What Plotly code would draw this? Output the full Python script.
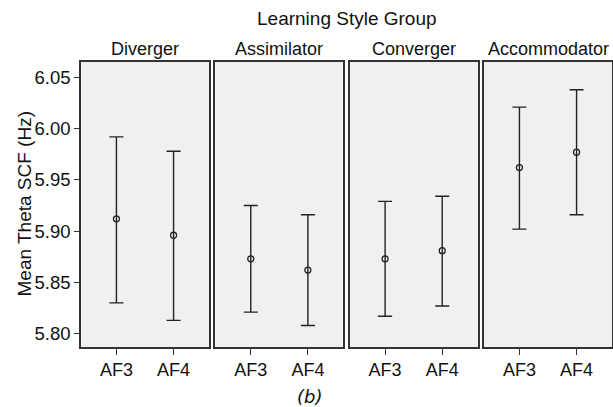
import plotly.graph_objects as go
from plotly.subplots import make_subplots

groups = ["Diverger", "Assimilator", "Converger", "Accommodator"]
channels = ["AF3", "AF4"]
means = [[5.912, 5.896], [5.873, 5.862], [5.873, 5.881], [5.962, 5.977]]
upper = [[5.992, 5.978], [5.925, 5.916], [5.929, 5.934], [6.021, 6.038]]
lower = [[5.830, 5.813], [5.821, 5.808], [5.817, 5.827], [5.902, 5.916]]
y_ticks = [5.80, 5.85, 5.90, 5.95, 6.00, 6.05]

W, H = 613, 407
ml, mr, mt, mb = 81, 1, 62, 60
pw = W - ml - mr
ph = H - mt - mb
panel_w = 128
gap = (pw - 4 * panel_w) / 3

fig = make_subplots(rows=1, cols=4, shared_yaxes=True)
font_family = "Liberation Sans, Arial, sans-serif"
tc = "#111"

for i, g in enumerate(groups):
    m = means[i]
    ep = [u - v for u, v in zip(upper[i], m)]
    em = [v - l for v, l in zip(m, lower[i])]
    fig.add_trace(go.Scatter(
        x=channels, y=m, mode="markers",
        marker=dict(symbol="circle-open", size=6, color="#222", line=dict(width=1.3)),
        error_y=dict(type="data", array=ep, arrayminus=em, color="#222",
                     thickness=1.4, width=7),
        showlegend=False), row=1, col=i + 1)
    d0 = i * (panel_w + gap) / pw
    d1 = min((i * (panel_w + gap) + panel_w) / pw, 1)
    xa = "xaxis" if i == 0 else f"xaxis{i+1}"
    fig.layout[xa].update(domain=[d0, d1], range=[-0.62, 1.62],
                          showline=True, mirror=True, linecolor="#333", linewidth=1.5,
                          ticks="outside", ticklen=6, tickcolor="#333",
                          showgrid=False, zeroline=False, automargin=False,
                          tickfont=dict(family=font_family, size=18, color=tc))
    ya = "yaxis" if i == 0 else f"yaxis{i+1}"
    fig.layout[ya].update(range=[5.787, 6.065], showline=True, mirror=True,
                          linecolor="#333", linewidth=1.5, showgrid=False, zeroline=False,
                          showticklabels=(i == 0), automargin=False,
                          ticks="outside" if i == 0 else "", ticklen=5, tickcolor="#333",
                          tickvals=y_ticks, tickformat=".2f",
                          tickfont=dict(family=font_family, size=18.5, color=tc))
    fig.add_annotation(text=g, xref="paper", yref="paper",
                       x=(d0 + d1) / 2, y=1 + 13 / ph, xanchor="center", yanchor="middle",
                       showarrow=False, font=dict(family=font_family, size=18, color=tc))

fig.add_annotation(text="Learning Style Group", xref="paper", yref="paper",
                   x=(347 - ml) / pw, y=1 + 43 / ph, xanchor="center", yanchor="middle",
                   showarrow=False, font=dict(family=font_family, size=19, color=tc))
fig.add_annotation(text="Mean Theta SCF (Hz)", xref="paper", yref="paper",
                   x=(24 - ml) / pw, y=0.5, textangle=-90, showarrow=False,
                   xanchor="center", yanchor="middle",
                   font=dict(family=font_family, size=19, color=tc))
fig.add_annotation(text="<i>(b)</i>", xref="paper", yref="paper",
                   x=(309 - ml) / pw, y=-(396 - (H - mb)) / ph, xanchor="center",
                   yanchor="middle", showarrow=False,
                   font=dict(family="DejaVu Sans, sans-serif", size=18, color=tc))

fig.update_layout(width=W, height=H, margin=dict(l=ml, r=mr, t=mt, b=mb, autoexpand=False),
                  plot_bgcolor="#f0f0f0", paper_bgcolor="white", hovermode=False)
fig.write_html("out.html", config={"displayModeBar": False},
               post_script="document.body.style.margin='0';")
